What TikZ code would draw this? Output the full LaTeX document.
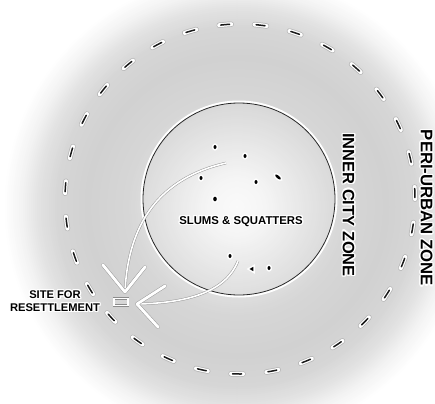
\documentclass[tikz,border=0pt]{standalone}
\usepackage{fontspec}
\setmainfont{Liberation Sans}
\usepackage{contour}
\contourlength{1.2pt}
\contournumber{16}
\usetikzlibrary{shapes.geometric}
\tikzset{
  dashhalo/.style={line cap=round, dash pattern=on 12bp off 23.47bp},
  dashcore/.style={line cap=round, dash pattern=on 9bp off 26.47bp, dash phase=33.97bp},
  arrowline/.style={draw=black!40, line width=0.5bp, double=white, double distance=1.6bp},
  headline/.style={draw=black!40, line width=0.5bp, double=white, double distance=2.8bp, line cap=round, line join=round},
  dotnode/.style={ellipse, fill=black, preaction={draw=white, line width=3bp}, minimum width=3bp, minimum height=4bp, inner sep=0pt},
  sitebox/.style={rectangle, draw=black!45, line width=0.5bp, double=white, double distance=1.1bp, fill=black!16, minimum width=14bp, minimum height=7bp, inner sep=0pt},
  lbl/.style={inner sep=0pt, text=black}
}
\begin{document}
\begin{tikzpicture}[x=1bp,y=1bp]
\useasboundingbox (0,0) rectangle (435,403);
\clip (0,0) rectangle (435,403);
\fill[white] (0,0) rectangle (435,403);
% soft grey field, built from concentric discs
\foreach \r in {234,232,...,2} {
  \pgfmathsetmacro\c{\r<30 ? 2+2*\r/30 : (\r<70 ? 4+6*(\r-30)/40 : (\r<110 ? 10+6*(\r-70)/40 : (\r<150 ? 16+2*(\r-110)/40 : (\r<180 ? 18-2*(\r-150)/30 : (\r<200 ? 16-5*(\r-180)/20 : (\r<215 ? 11-6*(\r-200)/15 : max(0,5-5*(\r-215)/19)))))))}
  \fill[black!\c] (237,196) circle (\r);
}
% outer dashed circle (peri-urban boundary)
\draw[black!30, line width=5.4bp, dashhalo] (240,204) circle (175);
\draw[white, line width=4bp, dashhalo] (240,204) circle (175);
\draw[black!90, line width=1.5bp, dashcore] (240,204) circle (175);
% inner city circle
\draw[white, line width=2.6bp] (239,204) circle (97.2);
\draw[black!85, line width=0.8bp] (239,204) circle (96);
% slum dots
\node[dotnode] (d1) at (215,256) {};
\node[dotnode] (d2) at (245,247) {};
\node[dotnode] (d3) at (201,225) {};
\node[dotnode] (d4) at (256,221) {};
\node[dotnode, minimum width=7bp, minimum height=2.8bp, rotate=-40] (d5) at (278,226) {};
\node[dotnode, minimum width=3.6bp, minimum height=4.6bp] (d6) at (215,204) {};
\node[dotnode] (d7) at (230,147) {};
\node[regular polygon, regular polygon sides=3, shape border rotate=90, fill=black, preaction={draw=white, line width=3bp}, minimum size=5bp, inner sep=0pt] (d8) at (252,134) {};
\node[dotnode] (d9) at (269,135) {};
% site for resettlement
\node[sitebox] (site) at (121,101) {};
% arrows
\coordinate (a1s) at (226,240);
\coordinate (a1t) at (125,111);
\coordinate (h1l) at (103,138);
\coordinate (h1r) at (145,136);
\coordinate (a2s) at (238,142);
\coordinate (a2t) at (137,99);
\coordinate (h2u) at (165,117);
\coordinate (h2d) at (158,76);
\draw[arrowline] (a1s) .. controls (160,225) and (128,180) .. (a1t);
\draw[arrowline] (a2s) .. controls (226,112) and (190,100) .. (a2t);
\draw[headline] (h1l) -- (a1t) -- (h1r);
\draw[headline] (h2u) -- (a2t) -- (h2d);
% labels
\node[lbl, font=\fontsize{11.4}{13}\selectfont\bfseries] (slums) at (241,181) {\contour{white}{SLUMS \& SQUATTERS}};
\node[lbl, rotate=-90, font=\fontsize{16.5}{18}\selectfont\bfseries] (inner) at (348,198) {\contour{white}{INNER CITY ZONE}};
\node[lbl, rotate=-90, font=\fontsize{16.8}{19}\selectfont\bfseries] (peri) at (426,195) {\contour{white}{PERI-URBAN ZONE}};
\node[lbl, align=center, font=\fontsize{11.2}{13}\selectfont\bfseries] (sitelbl) at (55,101) {\contour{white}{SITE FOR}\\\contour{white}{RESETTLEMENT}};
\end{tikzpicture}
\end{document}
